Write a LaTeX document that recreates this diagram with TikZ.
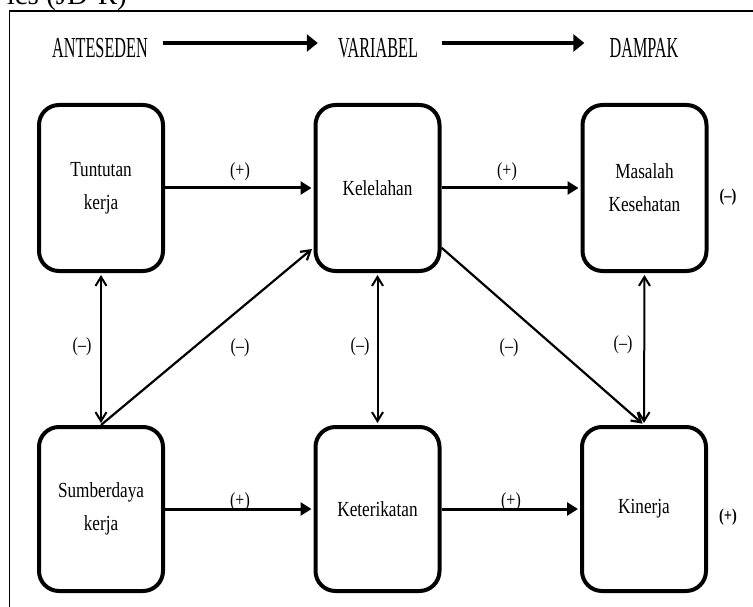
\documentclass[tikz,border=0pt]{standalone}
\usepackage{fontspec}
\setmainfont{Liberation Serif}
\newfontfamily\headfont[FakeStretch=0.56]{Liberation Serif}
\newfontfamily\boxfont[FakeStretch=0.8]{Liberation Serif}
\usetikzlibrary{arrows.meta}

\begin{document}
\begin{tikzpicture}[x=1pt,y=-1pt,
  varbox/.style={draw, line width=4pt, rounded corners=20pt,
    minimum width=124pt, minimum height=166pt, align=center, inner sep=0pt,
    font=\boxfont\fontsize{21.5}{33}\selectfont},
  head/.style={inner sep=0pt, font=\headfont\fontsize{29}{30}\selectfont},
  headarrow/.style={line width=3.5pt, -{Triangle[length=11pt,width=17pt]}},
  flow/.style={line width=3pt, -{Triangle[length=11pt,width=13pt]}, shorten >=2pt},
  link/.style={line width=2.2pt, -{Straight Barb[length=9pt,width=11pt]}, shorten >=2pt},
  twoway/.style={line width=2pt, {Straight Barb[length=9pt,width=11pt]}-{Straight Barb[length=9pt,width=11pt]},
    shorten >=2pt, shorten <=2pt},
  sign/.style={inner sep=0pt, font=\boxfont\fontsize{20}{20}\selectfont},
  outsign/.style={inner sep=0pt, font=\boxfont\bfseries\fontsize{18}{18}\selectfont}
]
\useasboundingbox (0,0) rectangle (753,607);

% caption line cut off at the top edge, and the outer frame
\begin{scope}
  \clip (0,0) rectangle (753,607);
  \node[anchor=base east, inner sep=0pt, font=\fontsize{29}{29}\selectfont] (cap) at (127,5) {ics (JD-R)};
\end{scope}
\coordinate (fbl) at (9,607);
\coordinate (ftl) at (9,11);
\coordinate (ftr) at (753,11);
\draw[line width=1pt] (fbl) -- (ftl);
\draw[line width=2pt] (ftl) -- (ftr);

% column headings
\node[head] (ant) at (100,48) {ANTESEDEN};
\node[head] (var) at (378,48) {VARIABEL};
\node[head] (dam) at (644,48) {DAMPAK};
\draw[headarrow] ([xshift=15pt,yshift=5pt]ant.east) -- ([xshift=-20pt,yshift=5pt]var.west);
\draw[headarrow] ([xshift=24pt,yshift=5pt]var.east) -- ([xshift=-25pt,yshift=5pt]dam.west);

% variables
\node[varbox] (tk) at (101,188) {Tuntutan\\kerja};
\node[varbox] (kl) at (377.5,188) {Kelelahan};
\node[varbox] (mk) at (644.5,188) {Masalah\\Kesehatan};
\node[varbox, minimum height=164pt] (sk) at (101,509) {Sumberdaya\\kerja};
\node[varbox, minimum height=164pt] (kt) at (377.5,509) {Keterikatan};
\node[varbox, minimum height=164pt] (kn) at (644,509) {Kinerja};

% paths
\draw[flow] (tk.east) -- (kl.west);
\draw[flow] (kl.east) -- (mk.west);
\draw[flow] (sk.east) -- (kt.west);
\draw[flow] (kt.east) -- (kn.west);
\draw[twoway] (tk.south) -- (sk.north);
\draw[twoway] (kl.south) -- (kt.north);
\draw[twoway] (mk.south) -- (kn.north);
\draw[link] (sk.north) -- (kl.223);
\draw[link] (kl.-43) -- (kn.north);

% signs
\node[sign] (s1) at (240,172) {(+)};
\node[sign] (s2) at (507,172) {(+)};
\node[sign] (s3) at (240,502) {(+)};
\node[sign] (s4) at (511,502) {(+)};
\node[sign] (s5) at (82,347) {(–)};
\node[sign] (s6) at (240,348) {(–)};
\node[sign] (s7) at (360,347) {(–)};
\node[sign] (s8) at (509,348) {(–)};
\node[sign] (s9) at (623,345) {(–)};
\node[outsign] (o1) at (728,197) {(–)};
\node[outsign] (o2) at (728,517) {(+)};
\end{tikzpicture}
\end{document}
